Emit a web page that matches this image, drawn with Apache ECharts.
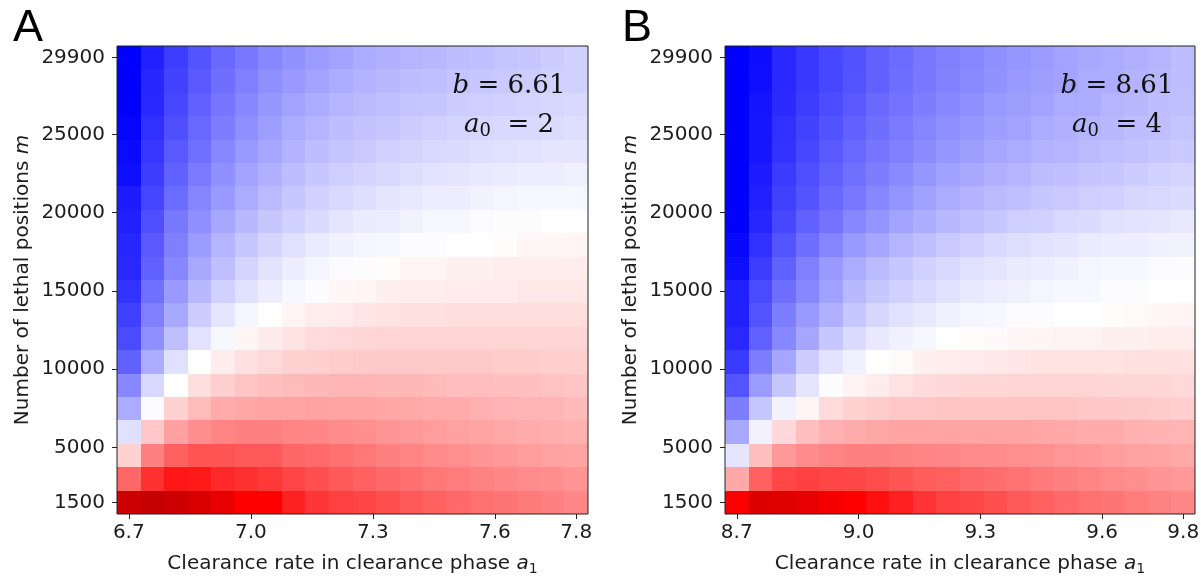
<!DOCTYPE html>
<html>
<head>
<meta charset="utf-8">
<script src="https://cdn.jsdelivr.net/npm/echarts@6.0.0/dist/echarts.min.js"></script>
<style>
  html, body { margin: 0; padding: 0; background: #ffffff; }
  #chart { width: 1204px; height: 581px; }
</style>
</head>
<body>
<div id="chart"></div>
<script>
// Grid of clearance rates a1 (columns) for the two parameter sets
const aValuesA = [6.700, 6.758, 6.816, 6.874, 6.932, 6.989, 7.047, 7.105, 7.163, 7.221,
                  7.279, 7.337, 7.395, 7.453, 7.511, 7.568, 7.626, 7.684, 7.742, 7.800];
const aValuesB = [8.700, 8.758, 8.816, 8.874, 8.932, 8.989, 9.047, 9.105, 9.163, 9.221,
                  9.279, 9.337, 9.395, 9.453, 9.511, 9.568, 9.626, 9.684, 9.742, 9.800];
// Number of lethal positions m (rows, ascending)
const mValues = [1500, 2995, 4489, 5984, 7479, 8974, 10468, 11963, 13458, 14953,
                 16447, 17942, 19437, 20932, 22426, 23921, 25416, 26911, 28405, 29900];

// Tick labels
const aTicksA = [6.7, 7.0, 7.3, 7.6, 7.8];
const aTicksB = [8.7, 9.0, 9.3, 9.6, 9.8];
const mTicks = [1500, 5000, 10000, 15000, 20000, 25000, 29900];

// Panel parameters
const paramsA = { b: '6.61', a0: '2' };
const paramsB = { b: '8.61', a0: '4' };

// Diverging score per cell; row i belongs to mValues[i], column j to aValues[j]
const scoreA = [
  [1.40, 1.46, 1.40, 1.31, 1.18, 1.00, 1.00, 0.87, 0.79, 0.75, 0.73, 0.69, 0.65, 0.62, 0.59, 0.56, 0.54, 0.52, 0.50, 0.47],
  [0.60, 0.81, 0.91, 0.90, 0.84, 0.81, 0.78, 0.73, 0.69, 0.65, 0.62, 0.59, 0.56, 0.53, 0.51, 0.49, 0.47, 0.45, 0.44, 0.42],
  [0.18, 0.50, 0.62, 0.67, 0.67, 0.65, 0.65, 0.60, 0.58, 0.56, 0.53, 0.50, 0.48, 0.46, 0.44, 0.42, 0.40, 0.39, 0.37, 0.36],
  [-0.12, 0.22, 0.37, 0.44, 0.48, 0.50, 0.50, 0.48, 0.47, 0.45, 0.44, 0.42, 0.40, 0.39, 0.37, 0.36, 0.34, 0.33, 0.32, 0.31],
  [-0.33, -0.01, 0.18, 0.27, 0.33, 0.35, 0.36, 0.36, 0.37, 0.36, 0.36, 0.35, 0.34, 0.33, 0.33, 0.31, 0.30, 0.29, 0.29, 0.27],
  [-0.47, -0.15, 0.00, 0.13, 0.19, 0.23, 0.25, 0.27, 0.28, 0.29, 0.29, 0.28, 0.28, 0.27, 0.26, 0.26, 0.25, 0.25, 0.24, 0.23],
  [-0.62, -0.33, -0.12, 0.00, 0.07, 0.12, 0.15, 0.18, 0.19, 0.20, 0.21, 0.21, 0.21, 0.21, 0.21, 0.21, 0.20, 0.20, 0.19, 0.19],
  [-0.71, -0.44, -0.25, -0.11, -0.03, 0.04, 0.08, 0.11, 0.14, 0.15, 0.16, 0.17, 0.17, 0.17, 0.17, 0.17, 0.17, 0.17, 0.17, 0.17],
  [-0.75, -0.50, -0.34, -0.20, -0.10, -0.04, 0.00, 0.04, 0.07, 0.08, 0.10, 0.11, 0.12, 0.12, 0.13, 0.13, 0.13, 0.13, 0.13, 0.13],
  [-0.80, -0.56, -0.40, -0.28, -0.18, -0.12, -0.07, -0.03, -0.01, 0.03, 0.04, 0.06, 0.07, 0.07, 0.08, 0.08, 0.08, 0.09, 0.09, 0.09],
  [-0.84, -0.62, -0.47, -0.34, -0.25, -0.17, -0.11, -0.07, -0.04, -0.02, -0.01, 0.01, 0.04, 0.04, 0.06, 0.06, 0.07, 0.07, 0.07, 0.07],
  [-0.85, -0.65, -0.50, -0.39, -0.29, -0.22, -0.17, -0.12, -0.08, -0.06, -0.04, -0.03, -0.01, -0.01, 0.00, 0.00, 0.01, 0.03, 0.03, 0.04],
  [-0.87, -0.69, -0.53, -0.44, -0.35, -0.28, -0.22, -0.18, -0.14, -0.10, -0.08, -0.07, -0.05, -0.03, -0.03, -0.02, -0.01, -0.01, 0.00, 0.00],
  [-0.89, -0.73, -0.58, -0.48, -0.40, -0.33, -0.27, -0.22, -0.18, -0.15, -0.13, -0.10, -0.09, -0.07, -0.07, -0.05, -0.04, -0.03, -0.03, -0.03],
  [-0.94, -0.76, -0.62, -0.52, -0.44, -0.36, -0.31, -0.26, -0.22, -0.19, -0.17, -0.15, -0.13, -0.11, -0.10, -0.09, -0.08, -0.07, -0.07, -0.06],
  [-0.96, -0.79, -0.65, -0.56, -0.47, -0.40, -0.35, -0.30, -0.26, -0.23, -0.21, -0.18, -0.17, -0.15, -0.14, -0.13, -0.12, -0.11, -0.10, -0.10],
  [-0.98, -0.81, -0.69, -0.59, -0.51, -0.44, -0.38, -0.33, -0.29, -0.26, -0.24, -0.22, -0.20, -0.18, -0.17, -0.16, -0.15, -0.15, -0.14, -0.13],
  [-1.00, -0.84, -0.72, -0.62, -0.54, -0.47, -0.41, -0.36, -0.33, -0.29, -0.27, -0.25, -0.23, -0.22, -0.20, -0.19, -0.18, -0.17, -0.16, -0.15],
  [-1.00, -0.85, -0.74, -0.65, -0.57, -0.50, -0.44, -0.40, -0.36, -0.33, -0.30, -0.28, -0.26, -0.25, -0.23, -0.22, -0.21, -0.20, -0.18, -0.18],
  [-1.00, -0.87, -0.76, -0.67, -0.59, -0.53, -0.47, -0.43, -0.39, -0.36, -0.33, -0.31, -0.29, -0.28, -0.26, -0.25, -0.23, -0.22, -0.20, -0.18]
];

const scoreB = [
  [1.04, 1.27, 1.24, 1.18, 1.08, 1.00, 0.94, 0.87, 0.80, 0.75, 0.72, 0.69, 0.65, 0.62, 0.59, 0.56, 0.54, 0.51, 0.49, 0.47],
  [0.34, 0.62, 0.72, 0.75, 0.73, 0.72, 0.70, 0.67, 0.64, 0.62, 0.59, 0.57, 0.55, 0.52, 0.50, 0.48, 0.46, 0.44, 0.42, 0.40],
  [-0.10, 0.25, 0.40, 0.45, 0.48, 0.50, 0.50, 0.49, 0.48, 0.47, 0.46, 0.45, 0.44, 0.43, 0.41, 0.40, 0.39, 0.37, 0.36, 0.34],
  [-0.34, -0.05, 0.15, 0.25, 0.31, 0.33, 0.35, 0.36, 0.36, 0.36, 0.36, 0.36, 0.36, 0.35, 0.34, 0.33, 0.33, 0.31, 0.30, 0.29],
  [-0.51, -0.22, -0.05, 0.04, 0.14, 0.18, 0.20, 0.22, 0.22, 0.23, 0.23, 0.23, 0.23, 0.23, 0.23, 0.22, 0.22, 0.21, 0.20, 0.19],
  [-0.67, -0.39, -0.22, -0.10, -0.01, 0.05, 0.08, 0.11, 0.14, 0.15, 0.16, 0.16, 0.17, 0.17, 0.17, 0.17, 0.16, 0.16, 0.16, 0.15],
  [-0.77, -0.51, -0.35, -0.20, -0.11, -0.06, 0.00, 0.02, 0.06, 0.07, 0.08, 0.09, 0.10, 0.11, 0.11, 0.11, 0.11, 0.12, 0.12, 0.12],
  [-0.84, -0.62, -0.47, -0.35, -0.22, -0.14, -0.09, -0.06, -0.03, 0.00, 0.01, 0.02, 0.03, 0.04, 0.05, 0.05, 0.06, 0.06, 0.07, 0.07],
  [-0.87, -0.67, -0.51, -0.40, -0.31, -0.22, -0.16, -0.12, -0.09, -0.06, -0.04, -0.03, -0.01, -0.01, 0.00, 0.00, 0.01, 0.02, 0.03, 0.04],
  [-0.87, -0.71, -0.57, -0.47, -0.37, -0.28, -0.22, -0.18, -0.15, -0.12, -0.09, -0.07, -0.06, -0.04, -0.03, -0.03, -0.01, -0.01, 0.00, 0.00],
  [-0.94, -0.76, -0.62, -0.50, -0.40, -0.33, -0.27, -0.22, -0.18, -0.15, -0.12, -0.10, -0.08, -0.07, -0.06, -0.04, -0.03, -0.03, -0.02, -0.01],
  [-0.97, -0.81, -0.67, -0.57, -0.48, -0.40, -0.35, -0.29, -0.25, -0.21, -0.18, -0.15, -0.13, -0.11, -0.10, -0.08, -0.07, -0.07, -0.06, -0.05],
  [-1.00, -0.85, -0.72, -0.62, -0.55, -0.47, -0.42, -0.36, -0.32, -0.28, -0.25, -0.22, -0.19, -0.18, -0.15, -0.14, -0.12, -0.11, -0.10, -0.09],
  [-1.00, -0.87, -0.75, -0.67, -0.59, -0.53, -0.47, -0.42, -0.37, -0.33, -0.30, -0.27, -0.25, -0.22, -0.21, -0.19, -0.18, -0.16, -0.15, -0.14],
  [-1.00, -0.89, -0.77, -0.69, -0.62, -0.56, -0.51, -0.46, -0.41, -0.37, -0.34, -0.31, -0.29, -0.26, -0.25, -0.23, -0.22, -0.20, -0.18, -0.17],
  [-1.00, -0.91, -0.80, -0.72, -0.65, -0.59, -0.54, -0.50, -0.45, -0.41, -0.38, -0.35, -0.33, -0.30, -0.29, -0.27, -0.25, -0.24, -0.22, -0.21],
  [-1.00, -0.91, -0.81, -0.74, -0.68, -0.62, -0.57, -0.52, -0.48, -0.44, -0.41, -0.38, -0.36, -0.33, -0.31, -0.29, -0.28, -0.26, -0.25, -0.23],
  [-1.00, -0.92, -0.83, -0.76, -0.70, -0.65, -0.59, -0.55, -0.51, -0.47, -0.44, -0.40, -0.38, -0.36, -0.33, -0.32, -0.29, -0.28, -0.26, -0.25],
  [-1.00, -0.94, -0.84, -0.78, -0.72, -0.67, -0.62, -0.57, -0.53, -0.49, -0.46, -0.43, -0.40, -0.38, -0.36, -0.33, -0.32, -0.30, -0.28, -0.26],
  [-1.00, -0.95, -0.84, -0.78, -0.72, -0.68, -0.62, -0.58, -0.53, -0.50, -0.47, -0.44, -0.41, -0.39, -0.36, -0.34, -0.33, -0.31, -0.29, -0.26]
];

const TEXT = '#1c1c1c';
const SANS = '"DejaVu Sans"';
const SERIF = '"DejaVu Serif"';

// Cell boundaries: midpoints between neighbouring grid values, extended
// by half a step at both ends, so adjacent cells share their edges exactly
function edges(arr) {
  const n = arr.length;
  const e = [arr[0] - (arr[1] - arr[0]) / 2];
  for (let i = 1; i < n; i++) e.push((arr[i - 1] + arr[i]) / 2);
  e.push(arr[n - 1] + (arr[n - 1] - arr[n - 2]) / 2);
  return e;
}

function cellData(aValues, scores) {
  const out = [];
  mValues.forEach((m, i) => aValues.forEach((a, j) => out.push([a, m, scores[i][j]])));
  return out;
}

function cellRenderer(aValues) {
  const xe = edges(aValues), ye = edges(mValues), n = aValues.length;
  return function (params, api) {
    const j = params.dataIndex % n, i = Math.floor(params.dataIndex / n);
    const p0 = api.coord([xe[j], ye[i + 1]]);
    const p1 = api.coord([xe[j + 1], ye[i]]);
    const x0 = Math.round(p0[0]), y0 = Math.round(p0[1]);
    const x1 = Math.round(p1[0]), y1 = Math.round(p1[1]);
    return {
      type: 'rect',
      shape: { x: x0, y: y0, width: x1 - x0, height: y1 - y0 },
      style: { fill: api.visual('color') }
    };
  };
}

const labelFont = { fontFamily: SANS, fontSize: 20, color: TEXT };

function xAxisFor(gridIndex, aValues, ticks) {
  const e = edges(aValues);
  return {
    type: 'value', gridIndex,
    min: e[0], max: e[e.length - 1],
    splitLine: { show: false },
    axisLine: { show: false },
    axisTick: { show: true, customValues: ticks, length: 5, lineStyle: { color: '#222', width: 1 } },
    axisLabel: Object.assign({ customValues: ticks, margin: 9, formatter: v => v.toFixed(1) }, labelFont),
    name: 'Clearance rate in clearance phase {it|a}{sub|1}',
    nameLocation: 'middle', nameGap: 38,
    nameTextStyle: {
      fontFamily: SANS, fontSize: 20, color: TEXT, lineHeight: 24,
      rich: {
        it: { fontFamily: SANS, fontSize: 20, fontStyle: 'italic', color: TEXT, lineHeight: 24 },
        sub: { fontFamily: SANS, fontSize: 14, color: TEXT, lineHeight: 10, verticalAlign: 'bottom' }
      }
    },
    z: 10
  };
}

function yAxisFor(gridIndex) {
  const e = edges(mValues);
  return {
    type: 'value', gridIndex,
    min: e[0], max: e[e.length - 1],
    splitLine: { show: false },
    axisLine: { show: false },
    axisTick: { show: true, customValues: mTicks, length: 5, lineStyle: { color: '#222', width: 1 } },
    axisLabel: Object.assign({ customValues: mTicks, margin: 12, formatter: v => String(v) }, labelFont),
    name: 'Number of lethal positions {it|m}',
    nameLocation: 'middle', nameGap: 82, nameRotate: 90,
    nameTextStyle: {
      fontFamily: SANS, fontSize: 20, color: TEXT, lineHeight: 24,
      rich: {
        it: { fontFamily: SANS, fontSize: 20, fontStyle: 'italic', color: TEXT, lineHeight: 24 }
      }
    },
    z: 10
  };
}

function seriesFor(idx, aValues, scores) {
  return {
    type: 'custom',
    xAxisIndex: idx, yAxisIndex: idx,
    renderItem: cellRenderer(aValues),
    encode: { x: 0, y: 1 },
    clip: true,
    data: cellData(aValues, scores)
  };
}

// Parameter annotation in the upper right of each panel
function annotation(cx, p) {
  const rich = {
    it: { fontFamily: SERIF, fontSize: 26, fontStyle: 'italic', fill: '#111', lineHeight: 30 },
    n: { fontFamily: SERIF, fontSize: 26, fill: '#111', lineHeight: 30 },
    sub: { fontFamily: SERIF, fontSize: 18, fill: '#111', lineHeight: 6, verticalAlign: 'bottom' }
  };
  return [
    { type: 'text', x: cx, y: 71, z: 20,
      style: { text: '{it|b}{n| = ' + p.b + '}', rich, align: 'center', verticalAlign: 'top',
               fontFamily: SERIF, fontSize: 26, fill: '#111' } },
    { type: 'text', x: cx, y: 110, z: 20,
      style: { text: '{it|a}{sub|0}{n|  = ' + p.a0 + '}', rich, align: 'center', verticalAlign: 'top',
               fontFamily: SERIF, fontSize: 26, fill: '#111' } }
  ];
}

const chart = echarts.init(document.getElementById('chart'), null, { renderer: 'canvas' });

const gridStyle = { show: true, z: 10, borderColor: '#222', borderWidth: 1, backgroundColor: 'transparent', containLabel: false };

chart.setOption({
  animation: false,
  backgroundColor: '#ffffff',
  title: [
    { text: 'A', left: 8, top: 1, textStyle: { fontFamily: '"Liberation Sans"', fontSize: 45, fontWeight: 'normal', color: '#000' } },
    { text: 'B', left: 617, top: 1, textStyle: { fontFamily: '"Liberation Sans"', fontSize: 45, fontWeight: 'normal', color: '#000' } }
  ],
  grid: [
    Object.assign({ left: 117, top: 46, width: 471, height: 471 }, gridStyle),
    Object.assign({ left: 725, top: 46, width: 470, height: 471 }, gridStyle)
  ],
  xAxis: [xAxisFor(0, aValuesA, aTicksA), xAxisFor(1, aValuesB, aTicksB)],
  yAxis: [yAxisFor(0), yAxisFor(1)],
  visualMap: {
    type: 'continuous', show: false,
    min: -2, max: 2, dimension: 2, seriesIndex: [0, 1],
    inRange: { color: ['#00004d', '#0000ff', '#ffffff', '#ff0000', '#800000'] }
  },
  series: [seriesFor(0, aValuesA, scoreA), seriesFor(1, aValuesB, scoreB)],
  graphic: annotation(509, paramsA).concat(annotation(1117, paramsB))
});
</script>
</body>
</html>
